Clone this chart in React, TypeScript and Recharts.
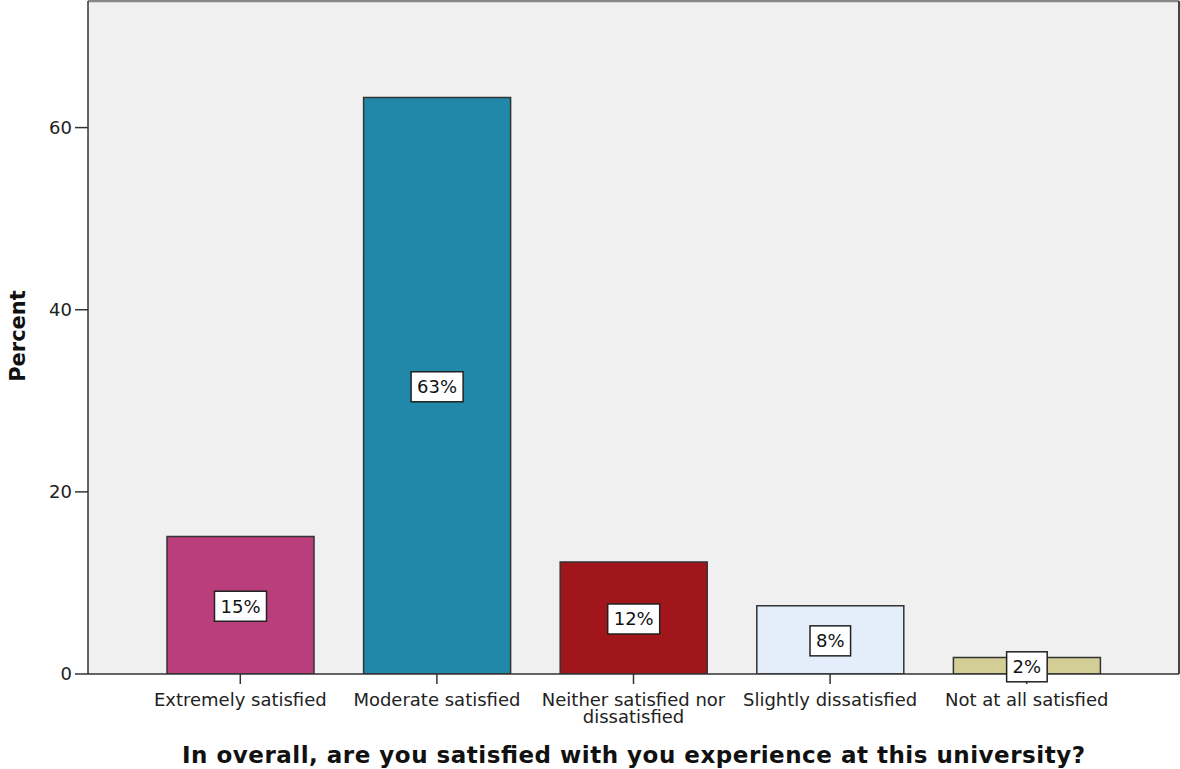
import { BarChart, Bar, XAxis, YAxis, CartesianGrid, LabelList, Label, Cell } from "recharts";

const categories = [
  "Extremely satisfied",
  "Moderate satisfied",
  "Neither satisfied nor dissatisfied",
  "Slightly dissatisfied",
  "Not at all satisfied",
];
const percents = [15.1, 63.3, 12.3, 7.5, 1.8];
const barColors = ["#BA3E7B", "#2288A9", "#A0161B", "#E3EEFA", "#D3CE95"];
const yTicks = [0, 20, 40, 60];

const data = categories.map((name, i) => ({ name, percent: percents[i] }));

const FONT = "'DejaVu Sans', sans-serif";

function wrap(label: string, maxChars: number) {
  const words = label.split(" ");
  const lines: string[] = [];
  let cur = "";
  for (const w of words) {
    const next = cur ? cur + " " + w : w;
    if (next.length > maxChars && cur) {
      lines.push(cur);
      cur = w;
    } else cur = next;
  }
  if (cur) lines.push(cur);
  return lines;
}

const CategoryTick = (props: any) => {
  const { x, y, payload } = props;
  const lines = wrap(payload.value, 22);
  return (
    <text x={x} y={y} textAnchor="middle" fontFamily={FONT} fontSize={18} fill="#222">
      {lines.map((l, i) => (
        <tspan key={i} x={x} dy={i === 0 ? 22 : 17}>
          {l}
        </tspan>
      ))}
    </text>
  );
};

const ValueBox = (props: any) => {
  const { x, y, width, height, value } = props;
  const txt = `${Math.round(value)}%`;
  const digits = txt.length - 1;
  const w = digits * 11.45 + 17.1 + 12;
  const h = 30;
  const cx = x + width / 2;
  const cy = y + height / 2 + 1;
  return (
    <g>
      <rect x={cx - w / 2} y={cy - h / 2} width={w} height={h} fill="#fff" stroke="#222" strokeWidth={1.5} />
      <text x={cx} y={cy + 6.5} textAnchor="middle" fontFamily={FONT} fontSize={18} fill="#111">
        {txt}
      </text>
    </g>
  );
};

export default function App() {
  return (
    <div style={{ position: "absolute", left: 0, top: 0, width: 1180, height: 769, background: "#fff" }}>
      <BarChart width={1180} height={769} data={data} margin={{ top: 1, right: 1, left: 0, bottom: 0 }}>
        <CartesianGrid fill="#F0F0F0" horizontal={false} vertical={false} />
        <CartesianGrid
          vertical={false}
          stroke="#888"
          strokeWidth={2.5}
          horizontalCoordinatesGenerator={({ offset }: any) => [offset.top]}
        />
        <CartesianGrid
          horizontal={false}
          stroke="#444"
          strokeWidth={2}
          verticalCoordinatesGenerator={({ offset }: any) => [offset.left + offset.width]}
        />
        <XAxis
          dataKey="name"
          height={95}
          padding={{ left: 54, right: 54 }}
          axisLine={{ stroke: "#333", strokeWidth: 1.5 }}
          tickLine={{ stroke: "#333", strokeWidth: 1.5 }}
          tickSize={10}
          tickMargin={0}
          interval={0}
          tick={<CategoryTick />}
        >
          <Label
            content={(p: any) => {
              const vb = p.viewBox;
              return (
                <text
                  x={vb.x + vb.width / 2}
                  y={vb.y + 89}
                  textAnchor="middle"
                  fontFamily={FONT}
                  fontWeight="bold"
                  fontSize={23}
                  textLength={903}
                  lengthAdjust="spacing"
                  fill="#111"
                >
                  In overall, are you satisfied with you experience at this university?
                </text>
              );
            }}
          />
        </XAxis>
        <YAxis
          width={88}
          domain={[0, 73.9]}
          ticks={yTicks}
          allowDataOverflow
          axisLine={{ stroke: "#333", strokeWidth: 1.5 }}
          tickLine={{ stroke: "#333", strokeWidth: 1.5 }}
          tickSize={13}
          tickMargin={3}
          tick={{ fontFamily: FONT, fontSize: 18, fill: "#222" }}
        >
          <Label
            content={() => (
              <text
                x={25}
                y={336}
                transform="rotate(-90, 25, 336)"
                textAnchor="middle"
                fontFamily={FONT}
                fontWeight="bold"
                fontSize={21}
                fill="#111"
              >
                Percent
              </text>
            )}
          />
        </YAxis>
        <Bar dataKey="percent" barSize={147} stroke="#333" strokeWidth={1.5} isAnimationActive={false}>
          {data.map((d, i) => (
            <Cell key={d.name} fill={barColors[i]} />
          ))}
          <LabelList dataKey="percent" content={<ValueBox />} />
        </Bar>
      </BarChart>
    </div>
  );
}
